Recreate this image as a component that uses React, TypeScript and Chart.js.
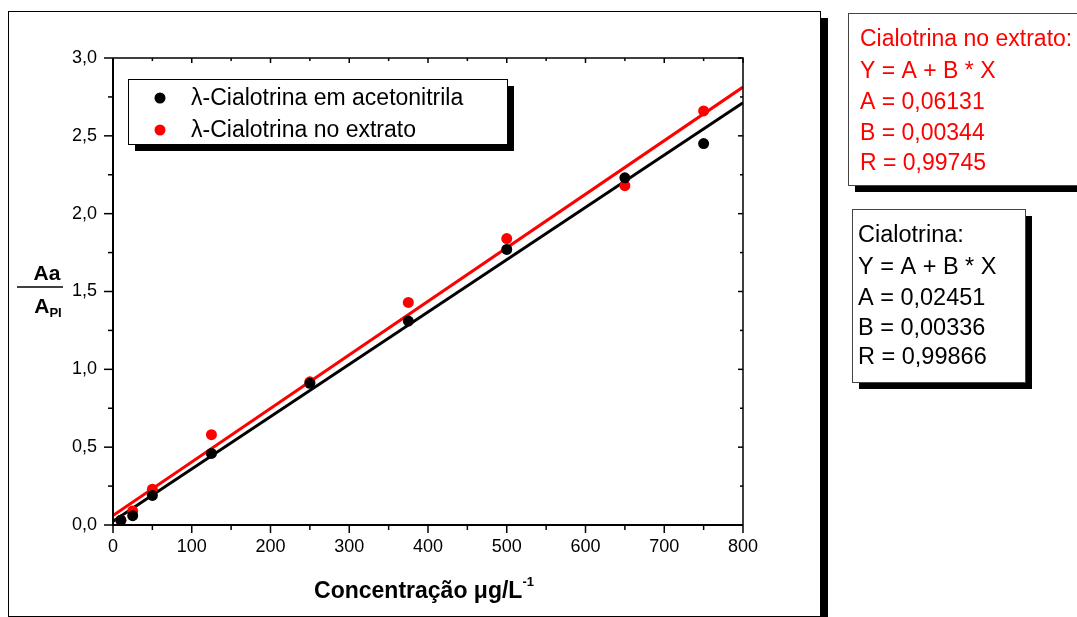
import React, { useEffect, useRef } from "react";
import { Chart, registerables } from "chart.js";

Chart.register(...registerables);

// ---- data ----
const concentrations = [10, 25, 50, 125, 250, 375, 500, 650, 750];
const acetonitrila = [0.03, 0.06, 0.19, 0.46, 0.91, 1.31, 1.77, 2.23, 2.45];
const extrato = [0.03, 0.09, 0.23, 0.58, 0.92, 1.43, 1.84, 2.18, 2.66];

// linear fit end points (x = 0 and x = 800)
const fitX = [0, 800];
const fitAcetonitrila = [0.02451, 2.71251];
const fitExtrato = [0.06131, 2.81331];

const seriesNames = ["λ-Cialotrina em acetonitrila", "λ-Cialotrina no extrato"];
const seriesColors = ["#000000", "#ff0000"];

// ---- axes ----
const xTickValues = [0, 100, 200, 300, 400, 500, 600, 700, 800];
const xTickLabels = ["0", "100", "200", "300", "400", "500", "600", "700", "800"];
const xMinorTicks = [50, 150, 250, 350, 450, 550, 650, 750];
const yTickValues = [0, 0.5, 1, 1.5, 2, 2.5, 3];
const yTickLabels = ["0,0", "0,5", "1,0", "1,5", "2,0", "2,5", "3,0"];
const yMinorTicks = [0.25, 0.75, 1.25, 1.75, 2.25, 2.75];

const xTitle = "Concentração μg/L";
const xTitleSup = "-1";
const yTitleTop = "Aa";
const yTitleBottom = "A";
const yTitleSub = "PI";

const boxExtrato = ["Cialotrina no extrato:", "Y = A + B * X", "A = 0,06131", "B = 0,00344", "R = 0,99745"];
const boxAcetonitrila = ["Cialotrina:", "Y = A + B * X", "A = 0,02451", "B = 0,00336", "R = 0,99866"];

const FONT = '"Liberation Sans", Arial, sans-serif';

const decorPlugin = {
  id: "decor",
  afterDraw(chart: any) {
    const ctx: CanvasRenderingContext2D = chart.ctx;
    const xs = chart.scales.x;
    const ys = chart.scales.y;
    const { left, right, top, bottom } = chart.chartArea;
    ctx.save();

    // outer frame + shadow
    ctx.strokeStyle = "#000";
    ctx.lineWidth = 1;
    ctx.strokeRect(8.5, 11.5, 812, 605);
    ctx.fillStyle = "#000";
    ctx.fillRect(821, 18, 7, 600);

    // axis lines
    ctx.lineWidth = 2;
    ctx.beginPath();
    ctx.moveTo(left, top);
    ctx.lineTo(left, bottom);
    ctx.lineTo(right, bottom);
    ctx.stroke();
    ctx.lineWidth = 1.5;
    ctx.beginPath();
    ctx.moveTo(left, top);
    ctx.lineTo(right, top);
    ctx.lineTo(right, bottom);
    ctx.stroke();

    // ticks
    ctx.lineWidth = 1.5;
    const tick = (x1: number, y1: number, x2: number, y2: number) => {
      ctx.beginPath();
      ctx.moveTo(x1, y1);
      ctx.lineTo(x2, y2);
      ctx.stroke();
    };
    xTickValues.forEach((v) => {
      const p = xs.getPixelForValue(v);
      tick(p, bottom, p, bottom + 8);
      tick(p, top, p, top + 5);
    });
    xMinorTicks.forEach((v) => {
      const p = xs.getPixelForValue(v);
      tick(p, bottom, p, bottom + 5);
      tick(p, top, p, top + 3);
    });
    yTickValues.forEach((v) => {
      const p = ys.getPixelForValue(v);
      tick(left, p, left - 9, p);
      tick(right, p, right - 5, p);
    });
    yMinorTicks.forEach((v) => {
      const p = ys.getPixelForValue(v);
      tick(left, p, left - 5, p);
      tick(right, p, right - 3, p);
    });

    // legend box
    ctx.fillStyle = "#000";
    ctx.fillRect(135, 86, 379, 65);
    ctx.fillStyle = "#fff";
    ctx.fillRect(128, 79, 379, 65);
    ctx.lineWidth = 1;
    ctx.strokeStyle = "#000";
    ctx.strokeRect(128.5, 79.5, 379, 65);
    ctx.font = `23px ${FONT}`;
    ctx.textBaseline = "middle";
    ctx.textAlign = "left";
    const legendY = [98, 130];
    seriesNames.forEach((name, i) => {
      ctx.fillStyle = seriesColors[i];
      ctx.beginPath();
      ctx.arc(160, legendY[i], 5.5, 0, Math.PI * 2);
      ctx.fill();
      ctx.fillStyle = "#000";
      ctx.fillText(name, 191, legendY[i] + 1);
    });

    // y title (fraction)
    ctx.fillStyle = "#000";
    ctx.textBaseline = "alphabetic";
    ctx.textAlign = "center";
    ctx.font = `bold 21px ${FONT}`;
    ctx.fillText(yTitleTop, 47, 280);
    ctx.lineWidth = 1.5;
    ctx.beginPath();
    ctx.moveTo(17, 287);
    ctx.lineTo(63, 287);
    ctx.stroke();
    ctx.textAlign = "left";
    ctx.font = `bold 21px ${FONT}`;
    const aw = ctx.measureText(yTitleBottom).width;
    ctx.font = `bold 13px ${FONT}`;
    const sw = ctx.measureText(yTitleSub).width;
    const sx = 48 - (aw + sw) / 2;
    ctx.font = `bold 21px ${FONT}`;
    ctx.fillText(yTitleBottom, sx, 313);
    ctx.font = `bold 13px ${FONT}`;
    ctx.fillText(yTitleSub, sx + aw, 317);

    // x title
    ctx.font = `bold 23px ${FONT}`;
    const tw = ctx.measureText(xTitle).width;
    ctx.font = `bold 13px ${FONT}`;
    const supw = ctx.measureText(xTitleSup).width;
    const tx = 424 - (tw + supw) / 2;
    ctx.font = `bold 23px ${FONT}`;
    ctx.fillText(xTitle, tx, 598);
    ctx.font = `bold 13px ${FONT}`;
    ctx.fillText(xTitleSup, tx + tw, 586);

    // parameter boxes
    const drawBox = (
      x: number, y: number, w: number, h: number,
      lines: string[], color: string, tx0: number, ys0: number[], size: number
    ) => {
      ctx.fillStyle = "#000";
      ctx.fillRect(x + 7, y + 7, w, h);
      ctx.fillStyle = "#fff";
      ctx.fillRect(x, y, w, h);
      ctx.strokeStyle = "#444";
      ctx.lineWidth = 1;
      ctx.strokeRect(x + 0.5, y + 0.5, w, h);
      ctx.fillStyle = color;
      ctx.font = `${size}px ${FONT}`;
      ctx.textAlign = "left";
      ctx.textBaseline = "middle";
      lines.forEach((t, i) => ctx.fillText(t, tx0, ys0[i] + 1));
    };
    drawBox(848, 13, 260, 172, boxExtrato, "#ff0000", 860, [39, 71, 102, 133, 163], 23);
    drawBox(852, 209, 173, 173, boxAcetonitrila, "#000000", 858, [235, 267, 298, 328, 357], 23.5);

    ctx.restore();
  },
};

export default function App() {
  const ref = useRef<HTMLCanvasElement | null>(null);

  useEffect(() => {
    if (!ref.current) return;
    const chart = new Chart(ref.current, {
      type: "scatter",
      data: {
        datasets: [
          {
            label: seriesNames[0],
            data: concentrations.map((x, i) => ({ x, y: acetonitrila[i] })),
            backgroundColor: seriesColors[0],
            borderColor: seriesColors[0],
            pointRadius: 5.5,
            borderWidth: 0,
            order: 0,
          },
          {
            label: seriesNames[1],
            data: concentrations.map((x, i) => ({ x, y: extrato[i] })),
            backgroundColor: seriesColors[1],
            borderColor: seriesColors[1],
            pointRadius: 5.5,
            borderWidth: 0,
            order: 1,
          },
          {
            label: "fit acetonitrila",
            data: fitX.map((x, i) => ({ x, y: fitAcetonitrila[i] })),
            showLine: true,
            borderColor: seriesColors[0],
            borderWidth: 3,
            pointRadius: 0,
            order: 3,
          },
          {
            label: "fit extrato",
            data: fitX.map((x, i) => ({ x, y: fitExtrato[i] })),
            showLine: true,
            borderColor: seriesColors[1],
            borderWidth: 3,
            pointRadius: 0,
            order: 2,
          },
        ],
      },
      options: {
        animation: false,
        responsive: false,
        maintainAspectRatio: false,
        layout: { padding: { left: 0, top: 58, right: 334, bottom: 0 } },
        plugins: { legend: { display: false }, tooltip: { enabled: false } },
        scales: {
          x: {
            type: "linear",
            min: 0,
            max: 800,
            afterFit: (s: any) => { s.height = 92; },
            afterBuildTicks: (s: any) => { s.ticks = xTickValues.map((v) => ({ value: v })); },
            ticks: {
              padding: 11,
              color: "#000",
              font: { family: FONT, size: 18 },
              maxRotation: 0,
              autoSkip: false,
              callback: (_v: any, i: number) => xTickLabels[i],
            },
            grid: { display: false, drawTicks: false, tickLength: 0 },
            border: { display: false },
          },
          y: {
            type: "linear",
            min: 0,
            max: 3,
            afterFit: (s: any) => { s.width = 113; },
            afterBuildTicks: (s: any) => { s.ticks = yTickValues.map((v) => ({ value: v })); },
            ticks: {
              padding: 16,
              color: "#000",
              font: { family: FONT, size: 18 },
              autoSkip: false,
              callback: (_v: any, i: number) => yTickLabels[i],
            },
            grid: { display: false, drawTicks: false, tickLength: 0 },
            border: { display: false },
          },
        },
      },
      plugins: [decorPlugin],
    });
    return () => chart.destroy();
  }, []);

  return (
    <div style={{ position: "fixed", left: 0, top: 0, width: 1077, height: 617, background: "#fff" }}>
      <canvas ref={ref} width={1077} height={617} style={{ display: "block" }} />
    </div>
  );
}
